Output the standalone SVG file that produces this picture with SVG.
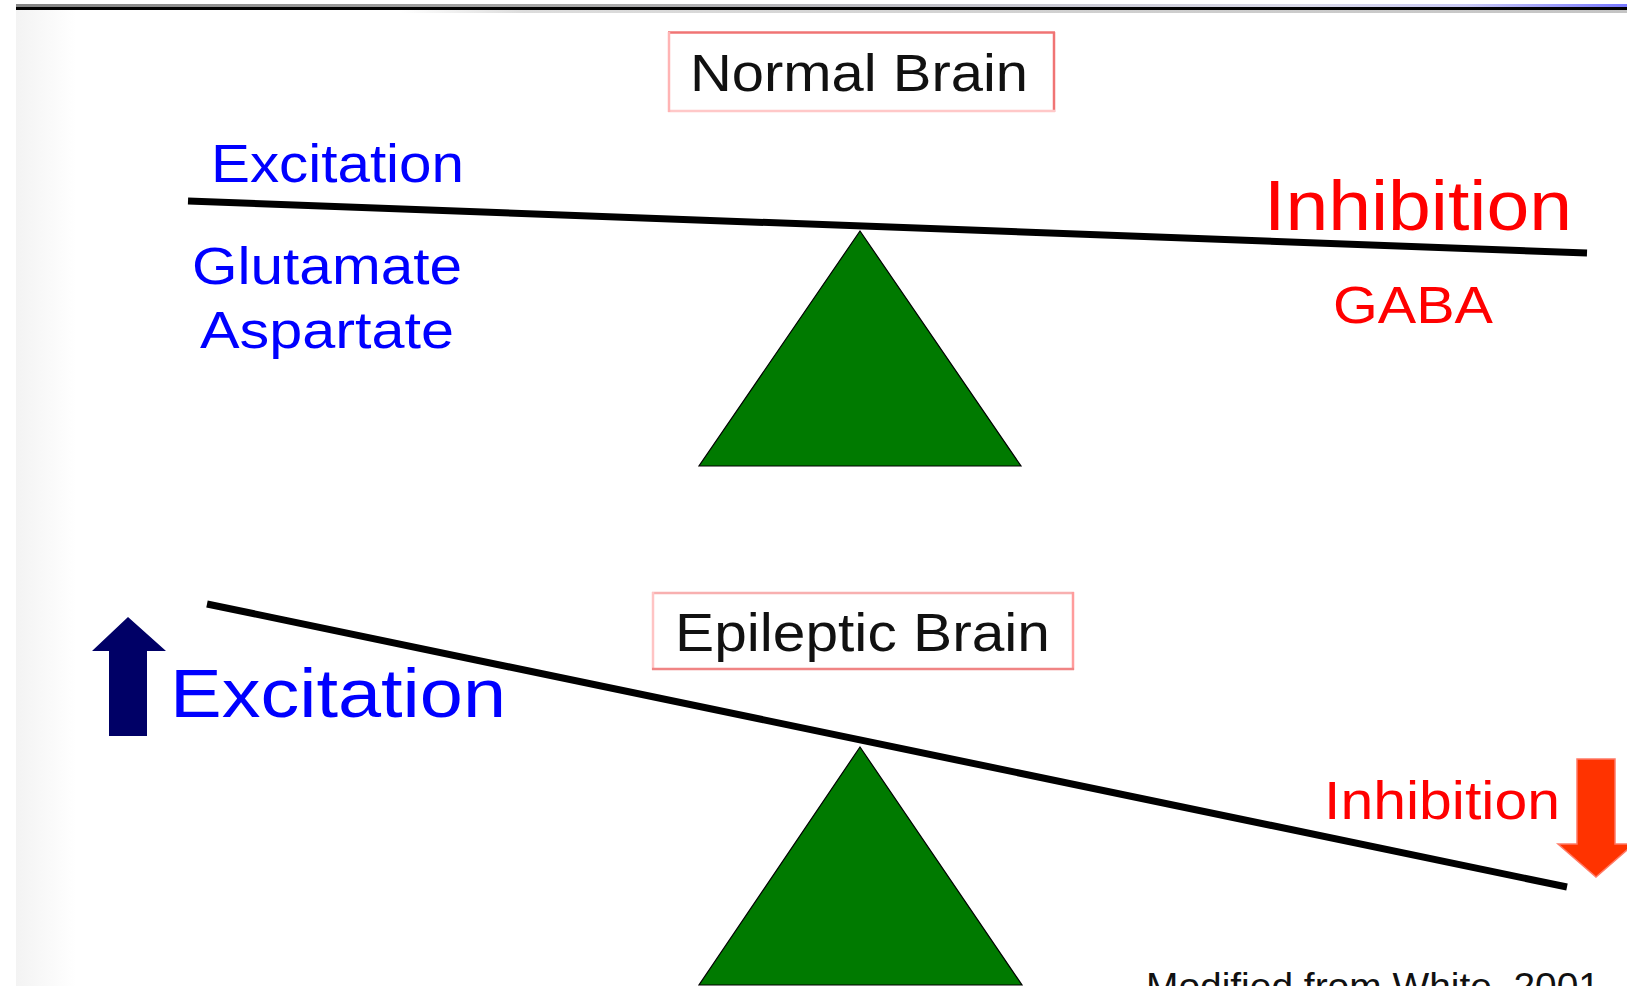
<svg xmlns="http://www.w3.org/2000/svg" width="1627" height="986" viewBox="0 0 1627 986">
  <defs>
    <linearGradient id="barTop" x1="0" y1="0" x2="1" y2="0">
      <stop offset="0" stop-color="#858585"/>
      <stop offset="0.35" stop-color="#a8a8a8"/>
      <stop offset="0.8" stop-color="#d8d8e8"/>
      <stop offset="0.9" stop-color="#c8c8f4"/>
      <stop offset="1" stop-color="#7878ff"/>
    </linearGradient>
    <linearGradient id="barBelow" x1="0" y1="0" x2="1" y2="0">
      <stop offset="0" stop-color="#ffffff"/>
      <stop offset="0.1" stop-color="#dcdcdc"/>
      <stop offset="1" stop-color="#c4c4c4"/>
    </linearGradient>
    <linearGradient id="leftShade" x1="0" y1="0" x2="1" y2="0">
      <stop offset="0" stop-color="#f3f3f3"/>
      <stop offset="1" stop-color="#ffffff"/>
    </linearGradient>
    <style>
      text { font-family: "Liberation Sans", Arial, sans-serif; }
      .blue { fill: #0000ff; }
      .red { fill: #ff0000; }
      .black { fill: #111111; }
      .beam { stroke: #000000; stroke-width: 7; fill: none; }
      .fulcrum { fill: #007a00; stroke: #000000; stroke-width: 1.2; }
    </style>
  </defs>

  <rect x="0" y="0" width="1627" height="986" fill="#ffffff"/>
  <rect x="16" y="10" width="60" height="976" fill="url(#leftShade)"/>

  <g id="title-bar">
    <rect x="16" y="4" width="1611" height="3" fill="url(#barTop)"/>
    <rect x="16" y="7" width="1611" height="3" fill="#000000"/>
    <rect x="400" y="10" width="1227" height="3" fill="url(#barBelow)"/>
  </g>

  <g id="normal-brain">
    <rect x="668.5" y="32.5" width="386" height="79" fill="#ffffff" stroke="none"/>
    <line x1="668" y1="32.5" x2="1055" y2="32.5" stroke="#f07474" stroke-width="2.5"/>
    <line x1="1054" y1="32" x2="1054" y2="112" stroke="#f07474" stroke-width="2.5"/>
    <line x1="668" y1="111" x2="1055" y2="111" stroke="#ffc8c8" stroke-width="2.5"/>
    <line x1="669" y1="32" x2="669" y2="112" stroke="#ffb4b4" stroke-width="2.5"/>
    <text x="690" y="91" font-size="51" textLength="338" lengthAdjust="spacingAndGlyphs" class="black">Normal Brain</text>
  </g>

  <g id="normal-excitation">
    <text x="211" y="182" font-size="54" textLength="253" lengthAdjust="spacingAndGlyphs" class="blue">Excitation</text>
    <text x="192" y="284" font-size="51" textLength="270" lengthAdjust="spacingAndGlyphs" class="blue">Glutamate</text>
    <text x="200" y="348" font-size="52" textLength="254" lengthAdjust="spacingAndGlyphs" class="blue">Aspartate</text>
  </g>

  <g id="normal-inhibition">
    <text x="1264" y="230" font-size="71" textLength="308" lengthAdjust="spacingAndGlyphs" class="red">Inhibition</text>
    <text x="1333" y="323" font-size="51" textLength="160" lengthAdjust="spacingAndGlyphs" class="red">GABA</text>
  </g>

  <g id="normal-fulcrum">
    <polygon class="fulcrum" points="860,231 1021,466 699,466"/>
  </g>

  <g id="epileptic-brain">
    <rect x="652.5" y="592.5" width="421" height="77" fill="#ffffff" stroke="none"/>
    <line x1="652" y1="593" x2="1074" y2="593" stroke="#f8b0b0" stroke-width="2.5"/>
    <line x1="653" y1="592" x2="653" y2="670" stroke="#ffc4c4" stroke-width="2.5"/>
    <line x1="1073" y1="592" x2="1073" y2="670" stroke="#ff9c9c" stroke-width="2.5"/>
    <line x1="652" y1="669" x2="1074" y2="669" stroke="#f08484" stroke-width="2.5"/>
    <text x="675" y="651" font-size="54" textLength="375" lengthAdjust="spacingAndGlyphs" class="black">Epileptic Brain</text>
  </g>

  <g id="epileptic-excitation">
    <polygon points="128,617 166,651 147,651 147,736 109,736 109,651 92,651" fill="#000066"/>
    <text x="170" y="717" font-size="69" textLength="336" lengthAdjust="spacingAndGlyphs" class="blue">Excitation</text>
  </g>

  <g id="epileptic-inhibition">
    <text x="1324" y="819" font-size="54.5" textLength="236" lengthAdjust="spacingAndGlyphs" class="red">Inhibition</text>
    <polygon points="1577,759 1615,759 1615,844 1634,844 1596,877 1558,844 1577,844" fill="#ff3300" stroke="#ff7a66" stroke-width="1.5"/>
  </g>

  <g id="epileptic-fulcrum">
    <polygon class="fulcrum" points="860,747 1022,985 699,985"/>
  </g>

  <g id="connectors">
    <line class="beam" x1="188" y1="201" x2="1587" y2="253"/>
    <line class="beam" x1="207" y1="604" x2="1567" y2="887"/>
  </g>

  <g id="credit">
    <text x="1146" y="999" font-size="36" textLength="454" lengthAdjust="spacingAndGlyphs" class="black">Modified from White, 2001</text>
  </g>
</svg>
